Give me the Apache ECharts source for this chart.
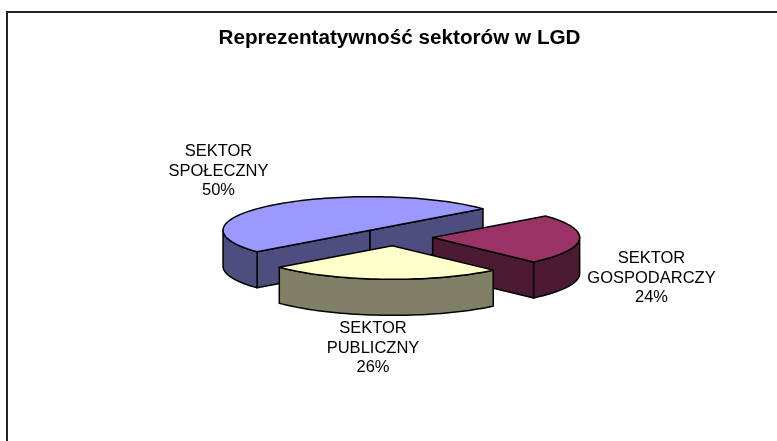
<!DOCTYPE html>
<html>
<head>
<meta charset="utf-8">
<style>
  html, body { margin: 0; padding: 0; background: #fff; }
  #chart { width: 777px; height: 441px; }
</style>
<script src="https://cdn.jsdelivr.net/npm/echarts@6/dist/echarts.min.js"></script>
</head>
<body>
<div id="chart"></div>
<script>
const titleText = 'Reprezentatywność sektorów w LGD';
const sectors = ['SEKTOR\nSPOŁECZNY', 'SEKTOR\nGOSPODARCZY', 'SEKTOR\nPUBLICZNY'];
const shares = [50, 24, 26];
const topColors = ['#9999ff', '#993366', '#ffffcc'];
const sideColors = ['#4d4d80', '#4d1a33', '#808066'];
const labelX = [218.5, 651.5, 373];
const labelY = [171, 278, 348];

// pie geometry, Excel style tilted and exploded
const cx = 394.5, cy = 237, rx = 147, ry = 33.6, depth = 36, explode = 0.26;
const startAngle = 219.8;
const rad = Math.PI / 180;
const total = shares.reduce((a, b) => a + b, 0);

function arcPoints(ox, oy, from, to, dy) {
  const steps = Math.max(2, Math.ceil(Math.abs(from - to) / 2));
  const pts = [];
  for (let i = 0; i <= steps; i++) {
    const t = (from + (to - from) * i / steps) * rad;
    pts.push([ox + rx * Math.cos(t), oy - ry * Math.sin(t) + dy]);
  }
  return pts;
}

function poly(points, fill) {
  return {
    type: 'polygon',
    shape: { points: points },
    style: { fill: fill, stroke: '#000', lineWidth: 1.5, lineJoin: 'round' }
  };
}

function renderSlice(params, api) {
  const i = params.dataIndex;
  let before = 0;
  for (let k = 0; k < i; k++) before += shares[k];
  const t0 = startAngle - before / total * 360;
  const t1 = t0 - api.value(0) / total * 360;
  const mid = (t0 + t1) / 2 * rad;
  const ox = cx + rx * explode * Math.cos(mid);
  const oy = cy - ry * explode * Math.sin(mid);
  const children = [];

  // cut faces that look towards the viewer
  [t0, t1].forEach((t, n) => {
    const c = Math.cos(t * rad);
    if ((n === 0 && c < 0) || (n === 1 && c > 0)) {
      const x = ox + rx * c, y = oy - ry * Math.sin(t * rad);
      children.push(poly([[ox, oy], [x, y], [x, y + depth], [ox, oy + depth]], sideColors[i]));
    }
  });

  // outer wall, only the front half of the ellipse
  [[-180, 0], [180, 360]].forEach(range => {
    const hi = Math.min(t0, range[1]), lo = Math.max(t1, range[0]);
    if (hi > lo) {
      const top = arcPoints(ox, oy, hi, lo, 0);
      const bottom = arcPoints(ox, oy, lo, hi, depth);
      children.push(poly(top.concat(bottom), sideColors[i]));
    }
  });

  // top surface
  children.push(poly([[ox, oy]].concat(arcPoints(ox, oy, t0, t1, 0)), topColors[i]));

  children.push({
    type: 'text',
    x: labelX[i],
    y: labelY[i],
    style: {
      text: sectors[i] + '\n' + api.value(0) + '%',
      fontFamily: '"Liberation Sans", Arial, sans-serif',
      fontSize: 16.5,
      lineHeight: 19.3,
      fill: '#000',
      align: 'center',
      verticalAlign: 'middle'
    }
  });
  return { type: 'group', children: children };
}

const chart = echarts.init(document.getElementById('chart'));
chart.setOption({
  backgroundColor: '#fff',
  animation: false,
  title: {
    text: titleText,
    left: 394.5,
    top: 23,
    textAlign: 'center',
    textStyle: {
      fontFamily: '"Liberation Sans", Arial, sans-serif',
      fontSize: 20.7,
      fontWeight: 'bold',
      color: '#000'
    }
  },
  graphic: [{
    type: 'polyline',
    shape: { points: [[7, 441], [7, 12], [777, 12]] },
    style: { stroke: '#222', lineWidth: 2, fill: null }
  }],
  series: [{
    type: 'custom',
    coordinateSystem: 'none',
    renderItem: renderSlice,
    data: shares.map(v => [v])
  }]
});
</script>
</body>
</html>
